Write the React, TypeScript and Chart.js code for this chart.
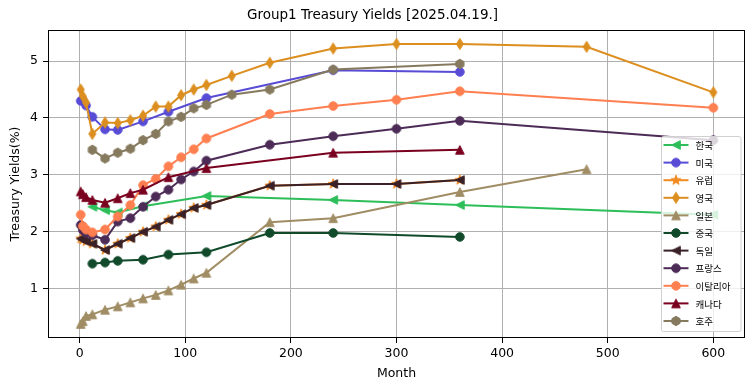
import React, { useEffect, useRef } from 'react';
import { Chart, registerables } from 'chart.js';

Chart.register(...registerables);

// ---- data ----
const chartTitle = 'Group1 Treasury Yields [2025.04.19.]';
const xTitle = 'Month';
const yTitle = 'Treasury Yields(%)';
const xTickValues = [0, 100, 200, 300, 400, 500, 600];
const yTickValues = [1, 2, 3, 4, 5];

const krMonths = [12, 24, 36, 60, 120, 240, 360, 600];
const krYields = [2.44, 2.38, 2.34, 2.45, 2.63, 2.56, 2.47, 2.3];

const usMonths = [1, 3, 6, 12, 24, 36, 60, 84, 120, 240, 360];
const usYields = [4.3, 4.31, 4.22, 4.02, 3.8, 3.79, 3.94, 4.11, 4.35, 4.84, 4.81];

const euMonths = [1, 3, 6, 12, 24, 36, 48, 60, 72, 84, 96, 108, 120, 180, 240, 300, 360];
const euYields = [1.88, 1.86, 1.83, 1.79, 1.68, 1.79, 1.89, 2.0, 2.09, 2.21, 2.31, 2.42, 2.47, 2.81, 2.84, 2.84, 2.91];

const ukMonths = [1, 3, 6, 12, 24, 36, 48, 60, 72, 84, 96, 108, 120, 144, 180, 240, 300, 360, 480, 600];
const ukYields = [4.5, 4.38, 4.27, 3.72, 3.92, 3.91, 3.96, 4.04, 4.2, 4.2, 4.4, 4.5, 4.58, 4.74, 4.97, 5.22, 5.3, 5.3, 5.25, 4.45];

const jpMonths = [1, 3, 6, 12, 24, 36, 48, 60, 72, 84, 96, 108, 120, 180, 240, 360, 480];
const jpYields = [0.38, 0.43, 0.52, 0.55, 0.63, 0.69, 0.76, 0.83, 0.89, 0.97, 1.07, 1.18, 1.28, 2.17, 2.24, 2.7, 3.1];

const cnMonths = [12, 24, 36, 60, 84, 120, 180, 240, 360];
const cnYields = [1.44, 1.46, 1.49, 1.51, 1.6, 1.64, 1.98, 1.98, 1.91];

const deMonths = [1, 3, 6, 12, 24, 36, 48, 60, 72, 84, 96, 108, 120, 180, 240, 300, 360];
const deYields = [1.88, 1.86, 1.83, 1.79, 1.68, 1.79, 1.89, 2.0, 2.09, 2.21, 2.31, 2.42, 2.47, 2.81, 2.84, 2.84, 2.91];

const frMonths = [1, 3, 6, 12, 24, 36, 48, 60, 72, 84, 96, 108, 120, 180, 240, 300, 360, 600];
const frYields = [2.12, 2.03, 1.98, 1.94, 1.86, 2.18, 2.24, 2.44, 2.62, 2.74, 2.92, 3.06, 3.25, 3.53, 3.68, 3.81, 3.95, 3.61];

const itMonths = [1, 3, 6, 12, 24, 36, 48, 60, 72, 84, 96, 108, 120, 180, 240, 300, 360, 600];
const itYields = [2.3, 2.1, 2.04, 1.99, 2.04, 2.27, 2.47, 2.82, 2.93, 3.15, 3.31, 3.45, 3.64, 4.07, 4.21, 4.32, 4.47, 4.18];

const caMonths = [1, 3, 6, 12, 24, 36, 48, 60, 84, 120, 240, 360];
const caYields = [2.71, 2.66, 2.61, 2.56, 2.51, 2.59, 2.68, 2.74, 2.96, 3.12, 3.39, 3.44];

const auMonths = [12, 24, 36, 48, 60, 72, 84, 96, 108, 120, 144, 180, 240, 360];
const auYields = [3.44, 3.29, 3.39, 3.46, 3.61, 3.72, 3.94, 4.02, 4.17, 4.23, 4.41, 4.5, 4.85, 4.95];

const seriesNames = ['한국', '미국', '유럽', '영국', '일본', '중국', '독일', '프랑스', '이탈리아', '캐나다', '호주'];

// ---- styles ----
type Shape = 'circle' | 'triUp' | 'triLeft' | 'diamond' | 'star' | 'hexagon';
const seriesColors = ['#2DBE5A', '#584BD6', '#F28A22', '#DC8E1E', '#A08D64', '#104A2A', '#3A2128', '#4D2B57', '#FF7F50', '#7A0020', '#867A5E'];
const seriesShapes: Shape[] = ['triLeft', 'circle', 'star', 'diamond', 'triUp', 'circle', 'triLeft', 'circle', 'circle', 'triUp', 'hexagon'];

function makeMarker(shape: Shape, color: string): HTMLCanvasElement {
  const size = 16;
  const c = document.createElement('canvas');
  c.width = size;
  c.height = size;
  const ctx = c.getContext('2d')!;
  const cx = size / 2;
  const cy = size / 2;
  ctx.fillStyle = color;
  ctx.strokeStyle = color;
  ctx.lineWidth = 1;
  ctx.lineJoin = 'miter';
  ctx.beginPath();
  const poly = (pts: number[][]) => {
    pts.forEach((p, i) => (i === 0 ? ctx.moveTo(cx + p[0], cy + p[1]) : ctx.lineTo(cx + p[0], cy + p[1])));
    ctx.closePath();
  };
  if (shape === 'circle') {
    ctx.arc(cx, cy, 4.3, 0, Math.PI * 2);
  } else if (shape === 'triUp') {
    const r = 4.3;
    poly([[0, -r], [-r, r], [r, r]]);
  } else if (shape === 'triLeft') {
    const r = 4.3;
    poly([[-r, 0], [r, -r], [r, r]]);
  } else if (shape === 'diamond') {
    poly([[0, -5.6], [3.5, 0], [0, 5.6], [-3.5, 0]]);
  } else if (shape === 'star') {
    const pts: number[][] = [];
    for (let k = 0; k < 10; k++) {
      const r = k % 2 === 0 ? 5.2 : 2.1;
      const a = -Math.PI / 2 + (k * Math.PI) / 5;
      pts.push([r * Math.cos(a), r * Math.sin(a)]);
    }
    poly(pts);
  } else if (shape === 'hexagon') {
    const pts: number[][] = [];
    for (let k = 0; k < 6; k++) {
      const a = -Math.PI / 2 + (k * Math.PI) / 3;
      pts.push([4.7 * Math.cos(a), 4.7 * Math.sin(a)]);
    }
    poly(pts);
  }
  ctx.fill();
  ctx.stroke();
  return c;
}

export default function App() {
  const ref = useRef<HTMLCanvasElement>(null);

  useEffect(() => {
    const months = [krMonths, usMonths, euMonths, ukMonths, jpMonths, cnMonths, deMonths, frMonths, itMonths, caMonths, auMonths];
    const yields = [krYields, usYields, euYields, ukYields, jpYields, cnYields, deYields, frYields, itYields, caYields, auYields];
    const markers = seriesNames.map((_, i) => makeMarker(seriesShapes[i], seriesColors[i]));

    const datasets = seriesNames.map((name, i) => ({
      label: name,
      data: months[i].map((m, j) => ({ x: m, y: yields[i][j] })),
      borderColor: seriesColors[i],
      backgroundColor: seriesColors[i],
      borderWidth: 2,
      tension: 0,
      pointStyle: markers[i] as any,
      pointRadius: 5,
      pointHoverRadius: 5,
      order: -i,
    }));

    const framePlugin = {
      id: 'frame',
      afterDatasetsDraw(chart: any) {
        const { ctx, chartArea } = chart;
        ctx.save();
        ctx.strokeStyle = '#000';
        ctx.lineWidth = 1;
        const l = Math.round(chartArea.left) + 0.5;
        const t = Math.round(chartArea.top) + 0.5;
        const r = Math.round(chartArea.right) - 0.5;
        const b = Math.round(chartArea.bottom) - 0.5;
        ctx.strokeRect(l, t, r - l, b - t);
        ctx.restore();
      },
    };

    const legendPlugin = {
      id: 'customLegend',
      afterDraw(chart: any) {
        const { ctx } = chart;
        const bx = 661.5;
        const by = 136.5;
        const bw = 79.5;
        const bh = 195;
        ctx.save();
        ctx.beginPath();
        const rad = 2;
        ctx.moveTo(bx + rad, by);
        ctx.lineTo(bx + bw - rad, by);
        ctx.quadraticCurveTo(bx + bw, by, bx + bw, by + rad);
        ctx.lineTo(bx + bw, by + bh - rad);
        ctx.quadraticCurveTo(bx + bw, by + bh, bx + bw - rad, by + bh);
        ctx.lineTo(bx + rad, by + bh);
        ctx.quadraticCurveTo(bx, by + bh, bx, by + bh - rad);
        ctx.lineTo(bx, by + rad);
        ctx.quadraticCurveTo(bx, by, bx + rad, by);
        ctx.closePath();
        ctx.fillStyle = 'rgba(255,255,255,0.8)';
        ctx.fill();
        ctx.strokeStyle = '#d0d0d0';
        ctx.lineWidth = 1;
        ctx.stroke();
        ctx.font = '9.5px "Noto Sans CJK KR", sans-serif';
        ctx.textBaseline = 'middle';
        ctx.textAlign = 'left';
        seriesNames.forEach((name, i) => {
          const y = 145 + i * 17.6;
          ctx.strokeStyle = seriesColors[i];
          ctx.lineWidth = 2;
          ctx.beginPath();
          ctx.moveTo(663.5, y);
          ctx.lineTo(688.5, y);
          ctx.stroke();
          const m = markers[i];
          ctx.drawImage(m, 676 - m.width / 2, y - m.height / 2);
          ctx.fillStyle = '#000';
          ctx.fillText(name, 695.5, y + 0.5);
        });
        ctx.restore();
      },
    };

    const tickFont = { family: '"DejaVu Sans", sans-serif', size: 12.5 };

    const chart = new Chart(ref.current!, {
      type: 'line',
      data: { datasets: datasets as any },
      options: {
        responsive: false,
        devicePixelRatio: 1,
        animation: false,
        events: [],
        layout: { padding: { left: 0, right: 10, top: 0, bottom: 0 } },
        plugins: {
          legend: { display: false },
          tooltip: { enabled: false },
          title: {
            display: true,
            text: chartTitle,
            color: '#000',
            font: { family: '"DejaVu Sans", sans-serif', size: 13.5, weight: 'normal' as any },
            padding: { top: 7, bottom: 6.8 },
          },
        },
        scales: {
          x: {
            type: 'linear',
            min: -30,
            max: 630,
            afterBuildTicks: (scale: any) => {
              scale.ticks = xTickValues.map((v) => ({ value: v }));
            },
            afterFit: (scale: any) => {
              scale.height = 53;
            },
            ticks: { color: '#000', font: tickFont, padding: 3, maxRotation: 0, autoSkip: false },
            grid: { color: '#b0b0b0', lineWidth: 1, drawTicks: true, tickLength: 5, tickColor: '#000' },
            border: { display: false },
            title: {
              display: true,
              text: xTitle,
              color: '#000',
              font: tickFont,
              padding: { top: 0, bottom: 9.5 },
            },
          },
          y: {
            type: 'linear',
            min: 0.134,
            max: 5.546,
            afterBuildTicks: (scale: any) => {
              scale.ticks = yTickValues.map((v) => ({ value: v }));
            },
            afterFit: (scale: any) => {
              scale.width = 48;
            },
            ticks: { color: '#000', font: tickFont, padding: 5 },
            grid: { color: '#b0b0b0', lineWidth: 1, drawTicks: true, tickLength: 5, tickColor: '#000' },
            border: { display: false },
            title: {
              display: true,
              text: yTitle,
              color: '#000',
              font: tickFont,
              padding: { top: 8.5, bottom: 0 },
            },
          },
        },
      },
      plugins: [framePlugin, legendPlugin],
    });

    return () => chart.destroy();
  }, []);

  return (
    <div style={{ position: 'absolute', left: 0, top: 0, width: 755, height: 391, background: '#fff' }}>
      <canvas ref={ref} width={755} height={391} style={{ display: 'block', width: 755, height: 391 }} />
    </div>
  );
}
